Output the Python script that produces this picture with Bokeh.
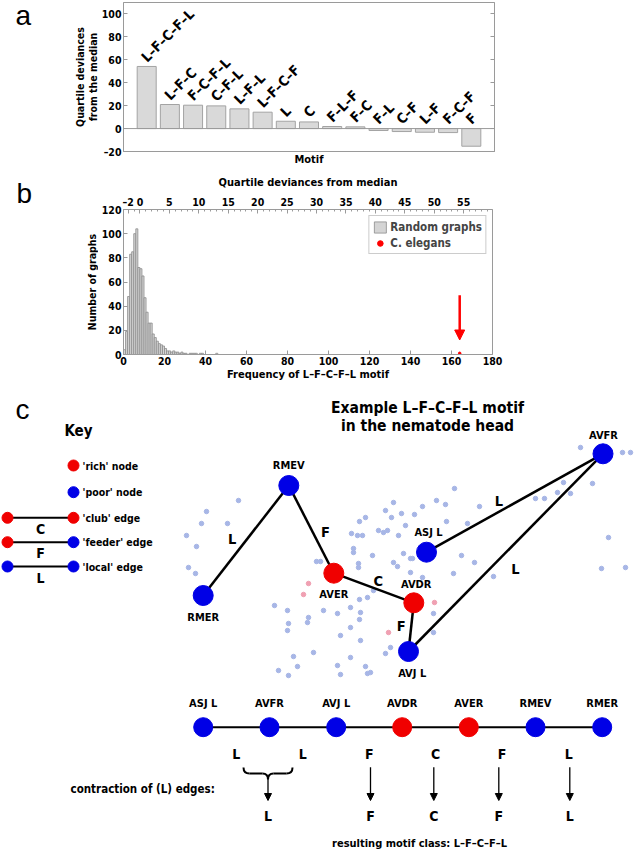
import math
from bokeh.plotting import figure
from bokeh.layouts import column, row
from bokeh.models import (Range1d, LinearAxis, FixedTicker, Span, Legend,
                          LegendItem, Arrow, NormalHead)
from bokeh.embed import file_html
from bokeh.resources import INLINE
from bokeh.core.properties import value

FONT = "DejaVu Sans Condensed"
LETTER_FONT = "Liberation Sans"
GRAY = "#9a9a9a"
RICH = "#f00000"
POOR = "#0000e6"

# ---------------- panel a data ----------------
motifs = ["L–F–C–F–L", "L–F–C", "F–C–F–L", "C–F–L", "L–F–L", "L–F–C–F", "L", "C",
          "F–L–F", "F–C", "F–L", "C–F", "L–F", "F–C–F", "F"]
deviances = [54.2, 21.0, 20.4, 19.8, 17.2, 14.3, 6.4, 5.8, 1.8, 1.5, -1.7, -2.6, -3.2, -3.5, -15.4]
a_yticks = [-20, 0, 20, 40, 60, 80, 100]

# ---------------- panel b data ----------------
freq_bins = list(range(47))
graph_counts = [4, 19, 48, 83, 85, 100, 104, 72, 71, 65, 47, 35, 26, 26, 17, 14, 11, 9, 8, 7,
                5, 3, 3, 2, 3, 2, 2, 1, 2, 1, 1, 0, 1, 1, 1, 1, 0, 1, 1, 0, 0, 0, 0, 0, 0, 1, 0]
b_xticks = [0, 20, 40, 60, 80, 100, 120, 140, 160, 180]
b_yticks = [0, 20, 40, 60, 80, 100, 120]
qd_ticks = [-2, 0, 5, 10, 15, 20, 25, 30, 35, 40, 45, 50, 55]
qd_minor = list(range(-2, 60))
celegans_freq = [164]
celegans_count = [1]

# ---------------- panel c data ----------------
key_labels = ["'rich' node", "'poor' node", "'club' edge", "'feeder' edge", "'local' edge"]
key_y = [465, 491.7, 517.3, 541.7, 566]
key_edge_letters = ["C", "F", "L"]
key_edge_left_rich = [True, True, False]
key_edge_right_rich = [True, False, False]

net_names = ["RMER", "RMEV", "AVER", "AVDR", "AVJ L", "ASJ L", "AVFR"]
net_x = [202.7, 288.3, 333.3, 413.3, 408.0, 426.0, 602.5]
net_y = [595.0, 485.0, 572.7, 602.3, 651.0, 551.7, 453.3]
net_rich = [False, False, True, True, False, False, False]
net_label_x = [202.7, 288.3, 333.3, 415.7, 411.7, 428.0, 603.0]
net_label_y = [616.7, 465.0, 594.0, 584.0, 672.5, 531.7, 435.0]
net_edges = [(0, 1), (1, 2), (2, 3), (3, 4), (4, 6), (5, 6)]
net_edge_labels = ["L", "F", "C", "F", "L", "L"]
net_edge_label_x = [231.7, 325.0, 377.7, 400.7, 515.0, 498.3]
net_edge_label_y = [538.3, 531.7, 580.0, 625.0, 568.3, 500.0]

bg_blue = [(238, 500), (206, 511), (201, 523), (227, 523), (186, 535), (196, 546), (188, 567), (195, 573),
           (274, 605), (287, 610), (288, 623), (287, 630), (307, 622), (308, 617), (323, 610), (337, 613),
           (350, 607), (360, 612), (359, 619), (350, 627), (340, 635), (360, 640), (313, 652), (293, 656),
           (385, 653), (390, 647), (350, 657), (316, 561), (320, 561), (353, 548), (353, 552), (358, 563),
           (358, 567), (351, 533), (357, 535), (362, 535), (359, 521), (365, 517), (378, 530), (383, 532),
           (387, 530), (372, 555), (385, 510), (391, 517), (393, 502), (401, 513), (414, 514), (422, 506),
           (436, 500), (445, 504), (446, 521), (405, 525), (398, 535), (393, 562), (397, 566), (403, 553),
           (410, 572), (410, 558), (373, 590), (367, 597), (359, 599), (433, 613), (433, 632), (580, 447),
           (622, 452), (630, 452), (563, 482), (592, 483), (557, 492), (570, 493), (535, 498), (544, 498),
           (454, 488), (479, 506), (467, 523), (608, 537), (461, 555), (474, 562), (453, 573), (493, 576),
           (412, 558), (422, 577), (601, 568), (625, 567), (278, 670), (288, 675), (297, 666), (337, 665),
           (340, 674), (365, 666), (367, 673), (370, 672)]
bg_pink = [(308, 583), (303, 594), (388, 632), (434, 602)]

chain_names = ["ASJ L", "AVFR", "AVJ L", "AVDR", "AVER", "RMEV", "RMER"]
chain_x = [202.7, 269.0, 335.7, 401.7, 468.3, 535.0, 601.7]
chain_rich = [False, False, False, True, True, False, False]
chain_edge_labels = ["L", "L", "F", "C", "F", "L"]
result_labels = ["L", "F", "C", "F", "L"]
result_x = [267.5, 370.0, 433.3, 498.3, 569.3]
brace_span = [243.0, 292.0]

W = 634
SIDE_W = 98


def style_axis(ax, size="10.5px"):
    ax.major_label_text_font = FONT
    ax.major_label_text_font_style = "bold"
    ax.major_label_text_font_size = size
    ax.major_label_text_color = "black"
    ax.axis_label_text_font = FONT
    ax.axis_label_text_font_style = "bold"
    ax.axis_label_text_font_size = "11px"
    ax.axis_label_text_color = "black"
    ax.axis_line_color = GRAY
    ax.major_tick_line_color = GRAY
    ax.minor_tick_line_color = GRAY
    ax.major_tick_in = 4
    ax.major_tick_out = 0
    ax.minor_tick_in = 2
    ax.minor_tick_out = 0
    ax.major_label_standoff = 2


def blank(width, height):
    f = figure(width=width, height=height, x_range=Range1d(0, width), y_range=Range1d(height, 0),
               x_axis_location=None, y_axis_location=None, min_border=0, frame_align=False,
               output_backend="svg", toolbar_location=None)
    f.grid.visible = False
    f.outline_line_color = None
    return f


def txt(p, x, y, t, size, align="center", baseline="middle", bold=True, font=FONT, angle=0.0):
    p.text(x=x, y=y, text=t, text_font=value(font), text_font_size=size,
           text_font_style="bold" if bold else "normal", text_align=align,
           text_baseline=baseline, text_color="black", angle=angle)


# ================= panel a =================
fa = blank(SIDE_W, 170)
txt(fa, [15], [15], ["a"], "28px", align="left", baseline="alphabetic", bold=False, font=LETTER_FONT)
txt(fa, [79, 92], [76.5, 76.5], ["Quartile deviances", "from the median"], "10.5px", angle=math.pi / 2)

pa = figure(width=W - SIDE_W, height=170, x_range=Range1d(0, 16), y_range=Range1d(-20, 110),
            output_backend="svg", toolbar_location=None, frame_align=False,
            min_border_left=9, min_border_right=W - 494, min_border_top=2, min_border_bottom=19)
pa.grid.visible = False
pa.outline_line_color = GRAY
for ax in pa.yaxis:
    style_axis(ax)
    ax.ticker = FixedTicker(ticks=a_yticks)
    ax.major_label_overrides = {-20: "–20"}
for ax in pa.xaxis:
    style_axis(ax)
    ax.ticker = FixedTicker(ticks=[])
    ax.axis_label = "Motif"
    ax.axis_label_standoff = 1
    ax.major_tick_line_color = None
ra = LinearAxis(ticker=FixedTicker(ticks=a_yticks))
style_axis(ra)
ra.major_label_text_color = None
pa.add_layout(ra, "right")

bar_x = list(range(1, len(motifs) + 1))
pa.vbar(x=bar_x, top=deviances, bottom=0, width=0.82, fill_color="#d9d9d9",
        line_color="#a3a3a3", line_width=1)
pa.add_layout(Span(location=0, dimension="width", line_color=GRAY, line_width=1))
pa.text(x=[x - 0.13 for x in bar_x], y=[max(v, 0) + 6.2 for v in deviances], text=motifs,
        angle=math.pi / 4, text_align="left", text_baseline="middle",
        text_font=value(FONT), text_font_style="bold", text_font_size="14px", text_color="black")

# ================= panel b =================
fb = blank(SIDE_W, 220)
txt(fb, [16], [23], ["b"], "28px", align="left", baseline="alphabetic", bold=False, font=LETTER_FONT)
txt(fb, [91], [111.5], ["Number of graphs"], "10.5px", angle=math.pi / 2)

pb = figure(width=W - SIDE_W, height=220, x_range=Range1d(0, 180), y_range=Range1d(0, 120),
            output_backend="svg", toolbar_location=None, frame_align=False,
            min_border_left=120 - SIDE_W, min_border_right=W - 492, min_border_top=39, min_border_bottom=36)
pb.grid.visible = False
pb.outline_line_color = GRAY
pb.extra_x_ranges = {"qd": Range1d(-2.8, 59.9)}
for ax in pb.yaxis:
    style_axis(ax)
    ax.ticker = FixedTicker(ticks=b_yticks)
for ax in pb.xaxis:
    style_axis(ax)
    ax.ticker = FixedTicker(ticks=b_xticks)
    ax.axis_label = "Frequency of L–F–C–F–L motif"
    ax.axis_label_standoff = 0
ta = LinearAxis(x_range_name="qd", ticker=FixedTicker(ticks=qd_ticks, minor_ticks=qd_minor),
                axis_label="Quartile deviances from median")
style_axis(ta)
ta.major_label_overrides = {-2: "–2"}
ta.axis_label_standoff = 4
pb.add_layout(ta, "above")

hist = pb.quad(left=freq_bins, right=[f + 1 for f in freq_bins], bottom=0, top=graph_counts,
               fill_color="#d4d4d4", line_color="#8c8c8c", line_width=0.8)
dot = pb.scatter(x=celegans_freq, y=celegans_count, size=2.5, color="red")
pb.add_layout(Arrow(end=NormalHead(size=10, fill_color="red", line_color="red"),
                    x_start=celegans_freq[0], y_start=49, x_end=celegans_freq[0], y_end=12,
                    line_color="red", line_width=2.5))
legend = Legend(items=[LegendItem(label="Random graphs", renderers=[hist]),
                       LegendItem(label="C. elegans", renderers=[dot])],
                location="top_right", label_text_font=FONT, label_text_font_style="bold",
                label_text_font_size="11.5px", border_line_color=GRAY, padding=3, spacing=1,
                margin=6, glyph_width=15, glyph_height=14, label_standoff=3,
                label_height=15)
pb.add_layout(legend)

# ================= panel c =================
pc = blank(W, 462)
pc.y_range = Range1d(852, 390)

txt(pc, [15], [409], ["c"], "28px", align="left", baseline="alphabetic", bold=False, font=LETTER_FONT)
txt(pc, [78], [430], ["Key"], "15px")
txt(pc, [427, 427], [407, 425], ["Example L–F–C–F–L motif", "in the nematode head"], "15.5px")

# key
pc.scatter(x=[73, 73], y=key_y[:2], size=11, color=[RICH, POOR])
for i, letter in enumerate(key_edge_letters):
    yy = key_y[2 + i]
    pc.line(x=[7, 73], y=[yy, yy], line_color="black", line_width=2)
    pc.scatter(x=[7, 73], y=[yy, yy], size=11,
               color=[RICH if key_edge_left_rich[i] else POOR, RICH if key_edge_right_rich[i] else POOR])
    txt(pc, [40], [yy + 11], [letter], "14px")
txt(pc, [82] * 5, key_y, key_labels, "10.5px", align="left")

# background network
pc.scatter(x=[p[0] for p in bg_blue], y=[p[1] for p in bg_blue], size=4.5, color="#a7b6e6")
pc.scatter(x=[p[0] for p in bg_pink], y=[p[1] for p in bg_pink], size=4.5, color="#f0a0b2")

# motif edges & nodes
pc.segment(x0=[net_x[a] for a, b in net_edges], y0=[net_y[a] for a, b in net_edges],
           x1=[net_x[b] for a, b in net_edges], y1=[net_y[b] for a, b in net_edges],
           line_color="black", line_width=2.5)
pc.scatter(x=net_x, y=net_y, size=20, color=[RICH if r else POOR for r in net_rich])
txt(pc, net_label_x, net_label_y, net_names, "11px")
txt(pc, net_edge_label_x, net_edge_label_y, net_edge_labels, "14.5px")

# chain
chain_y = [726.7] * len(chain_x)
pc.line(x=chain_x, y=chain_y, line_color="black", line_width=2)
pc.scatter(x=chain_x, y=chain_y, size=19, color=[RICH if r else POOR for r in chain_rich])
txt(pc, chain_x, [703.3] * len(chain_x), chain_names, "11px")
mids = [(chain_x[i] + chain_x[i + 1]) / 2 for i in range(len(chain_x) - 1)]
txt(pc, mids, [753.3] * len(mids), chain_edge_labels, "14px")

# brace
bl, br = brace_span
bc = (bl + br) / 2
top, mid, tip = 767.0, 773.0, 779.0
bx0 = [bl, bl + 6, bc - 5.5, br, br - 6, bc + 5.5]
by0 = [top, mid, mid, top, mid, mid]
bx1 = [bl + 6, bc - 5.5, bc, br - 6, bc + 5.5, bc]
by1 = [mid, mid, tip, mid, mid, tip]
bcx0 = [bl, bl + 6, bc - 2, br, br - 6, bc + 2]
bcy0 = [top + 4, mid, mid, top + 4, mid, mid]
bcx1 = [bl + 2, bc - 5.5, bc, br - 2, bc + 5.5, bc]
bcy1 = [mid, mid, mid + 2, mid, mid, mid + 2]
pc.bezier(x0=bx0, y0=by0, x1=bx1, y1=by1, cx0=bcx0, cy0=bcy0, cx1=bcx1, cy1=bcy1,
          line_color="black", line_width=2)

for i, rx in enumerate(result_x):
    ys = 779.0 if i == 0 else 766.7
    pc.add_layout(Arrow(end=NormalHead(size=7, fill_color="black", line_color="black"),
                        x_start=rx, y_start=ys, x_end=rx, y_end=800.0,
                        line_color="black", line_width=1.3))
txt(pc, result_x, [815] * len(result_x), result_labels, "14px")
txt(pc, [70], [788.3], ["contraction of (L) edges:"], "11.5px", align="left")
txt(pc, [419], [842.5], ["resulting motif class: L–F–C–F–L"], "11px")

layout = column(row(fa, pa, spacing=0), row(fb, pb, spacing=0), pc, spacing=0)
open("out.html", "w").write(file_html(layout, INLINE))
